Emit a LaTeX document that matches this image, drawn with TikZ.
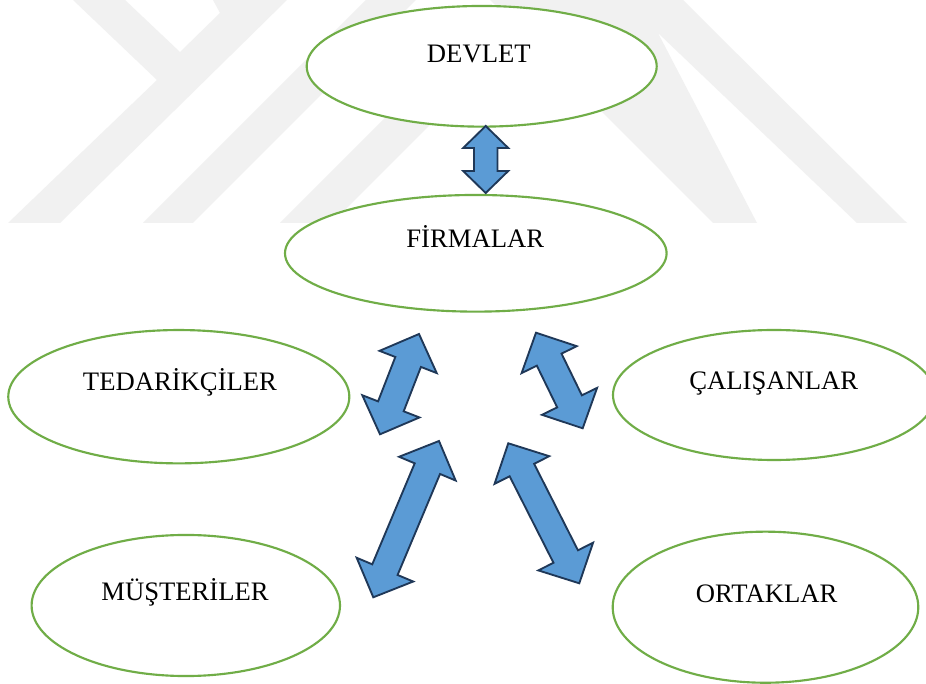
\documentclass[tikz,border=0pt]{standalone}
\usepackage{fontspec}
\setmainfont{Liberation Serif}
\usetikzlibrary{shapes.geometric,calc}
\definecolor{ellgreen}{RGB}{112,173,71}
\definecolor{arrfill}{RGB}{91,155,213}
\definecolor{arrline}{RGB}{31,56,88}
\definecolor{wmgray}{RGB}{241,241,241}
\tikzset{
  ell/.style={ellipse, draw=ellgreen, line width=1.6pt, fill=white, inner sep=0pt},
  lbl/.style={font=\fontsize{20}{24}\selectfont, anchor=base, inner sep=0pt},
  barrow/.style={fill=arrfill, draw=arrline, line width=1.4pt, line join=miter},
  wm/.style={fill=wmgray, draw=none},
}
% #1 start, #2 end, #3 head length, #4 head half width, #5 shaft half width
\newcommand{\blockarrow}[5]{%
  \draw[barrow] (#1)
    -- ($(#1)!#3!(#2)!#4!90:(#2)$)
    -- ($(#1)!#3!(#2)!#5!90:(#2)$)
    -- ($(#2)!#3!(#1)!#5!-90:(#1)$)
    -- ($(#2)!#3!(#1)!#4!-90:(#1)$)
    -- (#2)
    -- ($(#2)!#3!(#1)!#4!90:(#1)$)
    -- ($(#2)!#3!(#1)!#5!90:(#1)$)
    -- ($(#1)!#3!(#2)!#5!-90:(#2)$)
    -- ($(#1)!#3!(#2)!#4!-90:(#2)$)
    -- cycle;}
\begin{document}
\begin{tikzpicture}[x=0.75pt,y=-0.75pt]
\useasboundingbox (0,0) rectangle (926,684);
\clip (0,0) rectangle (926,684);
\fill[white] (0,0) rectangle (926,684);
% faint watermark
\fill[wm] (8,223) -- (157,80) -- (73,0) -- (125,0) -- (180,52) -- (220,13) -- (213,0) -- (287,0) -- (60,223) -- cycle;
\fill[wm] (143,223) -- (366,0) -- (416,0) -- (193,223) -- cycle;
\fill[wm] (280,223) -- (503,0) -- (555,0) -- (332,223) -- cycle;
\fill[wm] (490,0) -- (683,0) -- (907,223) -- (857,223) -- (658,33) -- (757,223) -- (713,223) -- cycle;
% ellipses
\node[ell, minimum width=262.5pt, minimum height=90.5pt] (dev) at (481.7,66.3) {};
\node[ell, minimum width=286.2pt, minimum height=87.5pt] (firm) at (475.8,253.3) {};
\node[ell, minimum width=255.8pt, minimum height=100pt] (ted) at (178.8,396.7) {};
\node[ell, minimum width=241.5pt, minimum height=97.5pt] (cal) at (774,395) {};
\node[ell, minimum width=231.3pt, minimum height=105.8pt] (mus) at (185.8,605.5) {};
\node[ell, minimum width=229.2pt, minimum height=113.3pt] (ort) at (765.5,607.2) {};
% labels
\node[lbl] (tdev) at (478.8,62.7) {DEVLET};
\node[lbl] (tfirm) at (475.3,247.3) {FİRMALAR};
\node[lbl] (tted) at (180,390.7) {TEDARİKÇİLER};
\node[lbl] (tcal) at (773.8,390) {ÇALIŞANLAR};
\node[lbl] (tmus) at (185,600.7) {MÜŞTERİLER};
\node[lbl] (tort) at (766.7,602.7) {ORTAKLAR};
% arrow end points
\coordinate (v1) at (485.7,126);
\coordinate (v2) at (485.7,193);
\coordinate (tl1) at (419,334);
\coordinate (tl2) at (380,434.3);
\coordinate (tr1) at (536,332.7);
\coordinate (tr2) at (582.7,428.3);
\coordinate (bl1) at (439,441);
\coordinate (bl2) at (373.3,597.3);
\coordinate (br1) at (508.3,443.3);
\coordinate (br2) at (579.3,583.3);
% block double arrows
\blockarrow{v1}{v2}{16.5pt}{16.9pt}{8.8pt}
\blockarrow{tl1}{tl2}{22.5pt}{23pt}{10.3pt}
\blockarrow{tr1}{tr2}{22.5pt}{23pt}{10.3pt}
\blockarrow{bl1}{bl2}{22.5pt}{23pt}{10.3pt}
\blockarrow{br1}{br2}{22.5pt}{23pt}{10.3pt}
\end{tikzpicture}
\end{document}
